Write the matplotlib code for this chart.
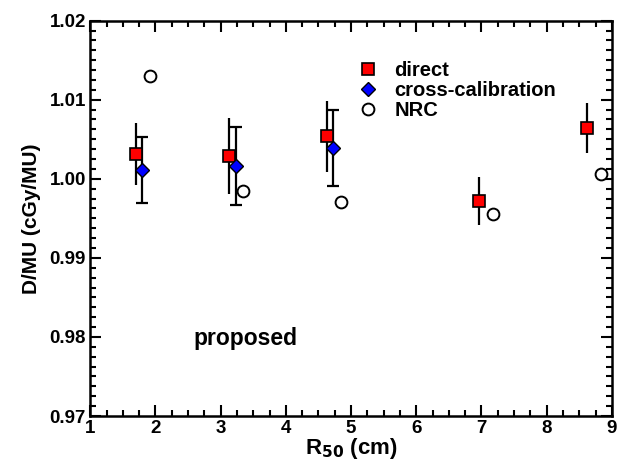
import matplotlib
matplotlib.use("Agg")
import matplotlib.pyplot as plt
from matplotlib.ticker import MultipleLocator, FormatStrFormatter

plt.rcParams['font.family'] = ['Liberation Sans', 'DejaVu Sans']
plt.rcParams['font.weight'] = 'bold'

# direct measurements
r50_direct = [1.70, 3.13, 4.63, 6.97, 8.62]
dmu_direct = [1.0031, 1.0029, 1.0054, 0.9972, 1.0064]
err_direct = [0.0039, 0.0048, 0.0045, 0.0030, 0.0032]

# cross-calibration
r50_cross = [1.80, 3.23, 4.73]
dmu_cross = [1.0011, 1.0016, 1.0039]
err_cross = [0.0042, 0.0049, 0.0048]

# NRC
r50_nrc = [1.91, 3.34, 4.84, 7.17, 8.83]
dmu_nrc = [1.0130, 0.9985, 0.9971, 0.9955, 1.0006]

fig = plt.figure(figsize=(6.18, 4.69), dpi=100)
ax = fig.add_axes([0.146, 0.113, 0.844, 0.843])

ax.errorbar(r50_direct, dmu_direct, yerr=err_direct, fmt='none',
            ecolor='black', elinewidth=1.6, capsize=0, zorder=2)
ax.errorbar(r50_cross, dmu_cross, yerr=err_cross, fmt='none',
            ecolor='black', elinewidth=1.6, capsize=4, capthick=1.6, zorder=2)

ax.plot(r50_direct, dmu_direct, 's', ms=8, mfc='red', mec='black', mew=1.2,
        label='direct', zorder=3)
ax.plot(r50_cross, dmu_cross, 'D', ms=7, mfc='blue', mec='black', mew=1.0,
        label='cross-calibration', zorder=3)
ax.plot(r50_nrc, dmu_nrc, 'o', ms=8.5, mfc='white', mec='black', mew=1.4,
        label='NRC', zorder=3)

ax.set_xlim(1, 9)
ax.set_ylim(0.97, 1.02)
ax.xaxis.set_major_locator(MultipleLocator(1))
ax.xaxis.set_minor_locator(MultipleLocator(0.25))
ax.yaxis.set_major_locator(MultipleLocator(0.01))
ax.yaxis.set_minor_locator(MultipleLocator(0.00125))
ax.yaxis.set_major_formatter(FormatStrFormatter('%.2f'))

ax.tick_params(which='both', direction='in', top=True, right=True,
               labelsize=13.5, width=1.5)
ax.tick_params(which='major', length=8, pad=3)
ax.tick_params(which='minor', length=4)
for s in ax.spines.values():
    s.set_linewidth(1.8)

ax.set_xlabel('R$_{\\mathbf{50}}$ (cm)', fontsize=16, fontweight='bold', labelpad=-1)
ax.set_ylabel('D/MU (cGy/MU)', fontsize=15, fontweight='bold', labelpad=6)

ax.text(2.58, 0.9798, 'proposed', fontsize=16.5, fontweight='bold', va='center')

ax.legend(loc='upper left', bbox_to_anchor=(0.5096, 0.898), frameon=False,
          fontsize=14.5, handletextpad=0.7, labelspacing=0.05,
          handlelength=1.2, borderaxespad=0, borderpad=0)

fig.savefig('out.png', dpi=100)
